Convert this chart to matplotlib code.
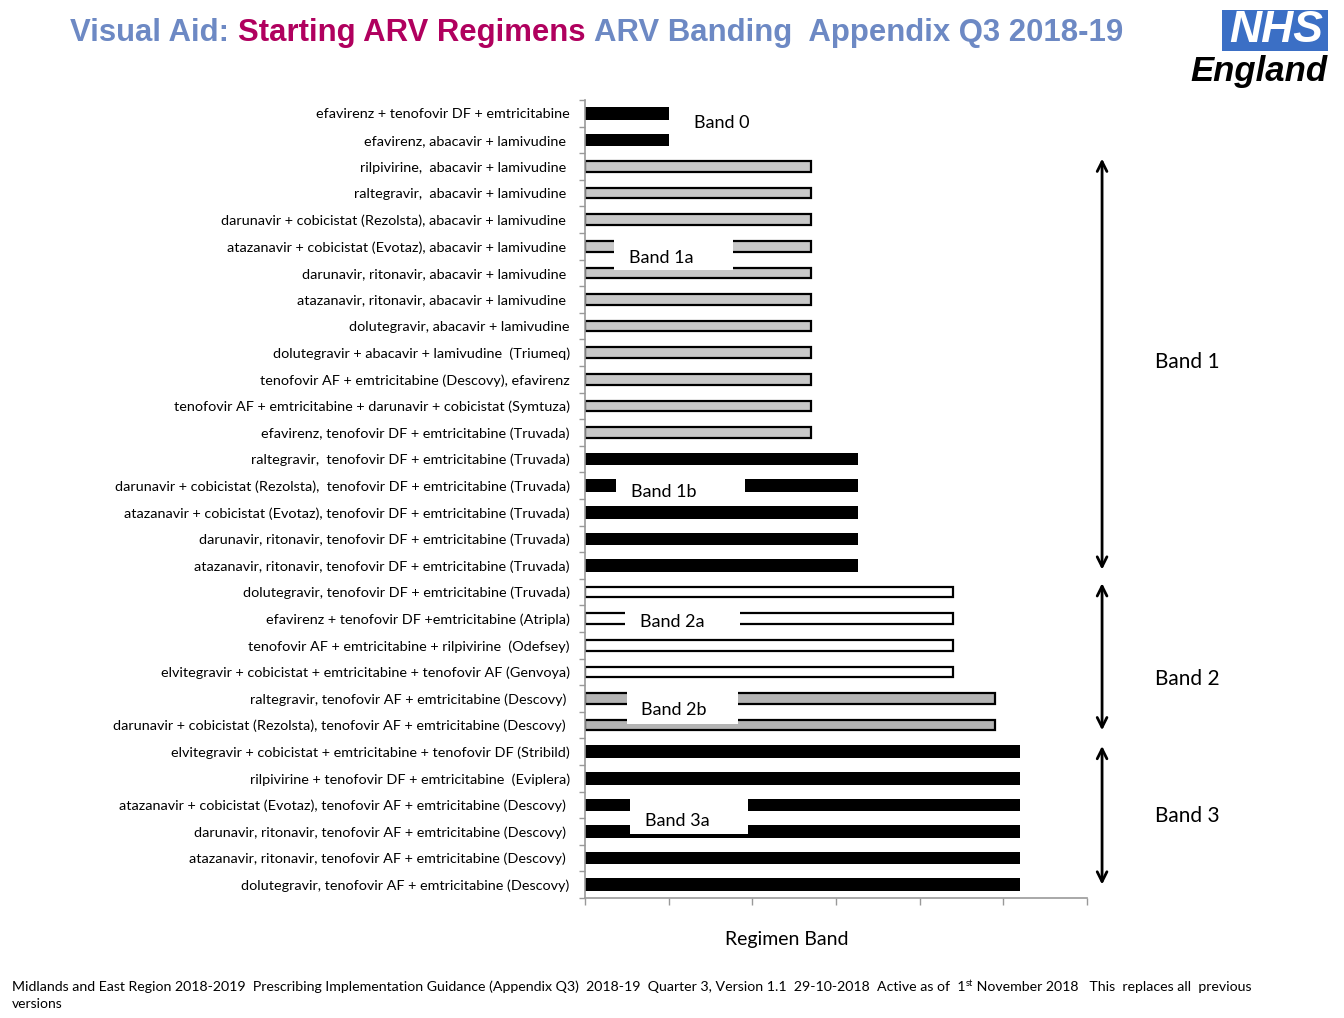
import matplotlib
matplotlib.use('Agg')
import matplotlib.pyplot as plt
from matplotlib.patches import Rectangle

plt.rcParams['font.family'] = ['Lato', 'DejaVu Sans']

# data
regimens = [
    "efavirenz + tenofovir DF + emtricitabine",
    "efavirenz, abacavir + lamivudine ",
    "rilpivirine,  abacavir + lamivudine ",
    "raltegravir,  abacavir + lamivudine ",
    "darunavir + cobicistat (Rezolsta), abacavir + lamivudine ",
    "atazanavir + cobicistat (Evotaz), abacavir + lamivudine ",
    "darunavir, ritonavir, abacavir + lamivudine ",
    "atazanavir, ritonavir, abacavir + lamivudine ",
    "dolutegravir, abacavir + lamivudine",
    "dolutegravir + abacavir + lamivudine  (Triumeq)",
    "tenofovir AF + emtricitabine (Descovy), efavirenz",
    "tenofovir AF + emtricitabine + darunavir + cobicistat (Symtuza)",
    "efavirenz, tenofovir DF + emtricitabine (Truvada)",
    "raltegravir,  tenofovir DF + emtricitabine (Truvada)",
    "darunavir + cobicistat (Rezolsta),  tenofovir DF + emtricitabine (Truvada)",
    "atazanavir + cobicistat (Evotaz), tenofovir DF + emtricitabine (Truvada)",
    "darunavir, ritonavir, tenofovir DF + emtricitabine (Truvada)",
    "atazanavir, ritonavir, tenofovir DF + emtricitabine (Truvada)",
    "dolutegravir, tenofovir DF + emtricitabine (Truvada)",
    "efavirenz + tenofovir DF +emtricitabine (Atripla)",
    "tenofovir AF + emtricitabine + rilpivirine  (Odefsey)",
    "elvitegravir + cobicistat + emtricitabine + tenofovir AF (Genvoya)",
    "raltegravir, tenofovir AF + emtricitabine (Descovy) ",
    "darunavir + cobicistat (Rezolsta), tenofovir AF + emtricitabine (Descovy) ",
    "elvitegravir + cobicistat + emtricitabine + tenofovir DF (Stribild)",
    "rilpivirine + tenofovir DF + emtricitabine  (Eviplera)",
    "atazanavir + cobicistat (Evotaz), tenofovir AF + emtricitabine (Descovy) ",
    "darunavir, ritonavir, tenofovir AF + emtricitabine (Descovy) ",
    "atazanavir, ritonavir, tenofovir AF + emtricitabine (Descovy) ",
    "dolutegravir, tenofovir AF + emtricitabine (Descovy)",
]
band_values = [1.0] * 2 + [2.7] * 11 + [3.26] * 5 + [4.4] * 4 + [4.9] * 2 + [5.2] * 6
band_codes = ['0'] * 2 + ['1a'] * 11 + ['1b'] * 5 + ['2a'] * 4 + ['2b'] * 2 + ['3a'] * 6

band_fill = {'0': 'black', '1a': '#c8c8c8', '1b': 'black',
             '2a': 'white', '2b': '#b4b4b4', '3a': 'black'}

# inner band labels: (text, text left x, text row, box x0, box x1, box row0, box row1)
inner_labels = [
    ("Band 1a", 0.53, 5.45, 0.35, 1.77, 4.70, 5.90),
    ("Band 1b", 0.55, 14.25, 0.37, 1.91, 13.72, 14.77),
    ("Band 2a", 0.66, 19.13, 0.48, 1.85, 18.62, 19.60),
    ("Band 2b", 0.67, 22.44, 0.50, 1.83, 21.70, 22.94),
    ("Band 3a", 0.72, 26.60, 0.54, 1.95, 25.70, 27.10),
]
# outer bands: (text, first row, last row, label row)
outer_bands = [
    ("Band 1", 1.60, 17.26, 9.36),
    ("Band 2", 17.56, 23.3, 21.28),
    ("Band 3", 23.68, 29.1, 26.4),
]

fig = plt.figure(figsize=(13.44, 10.18), dpi=100)
ax = fig.add_axes([585 / 1344, 1 - 898 / 1018, 502 / 1344, 798 / 1018])

rows = list(range(len(regimens)))
for r, v, b in zip(rows, band_values, band_codes):
    fc = band_fill[b]
    lw = 0 if fc == 'black' else 1.6
    h = 0.47 if fc == 'black' else 0.40
    ax.barh(r, v, height=h, color=fc, edgecolor='black', linewidth=lw, zorder=2)

ax.set_xlim(0, 6)
ax.set_ylim(len(regimens) - 0.5, -0.5)
ax.set_yticks(rows)
ax.set_yticklabels(regimens, fontsize=10.4)
ax.tick_params(axis='y', length=0, pad=11)
ax.set_yticks([r - 0.5 for r in rows] + [len(rows) - 0.5], minor=True)
ax.tick_params(axis='y', which='minor', length=4, color='#999999', width=1)
ax.set_xticks(range(7))
ax.set_xticklabels([])
ax.tick_params(axis='x', length=5, color='#999999', width=1)
for s in ['top', 'right']:
    ax.spines[s].set_visible(False)
for s in ['left', 'bottom']:
    ax.spines[s].set_color('#999999')
    ax.spines[s].set_linewidth(1.2)

fig.text(787 / 1344, 1 - 940 / 1018, "Regimen Band", fontsize=14,
         ha='center', va='center')

ax.text(1.63, 0.35, "Band 0", fontsize=13, ha='center', va='center')
for txt, xt, yt, x0, x1, y0, y1 in inner_labels:
    ax.add_patch(Rectangle((x0, y0), x1 - x0, y1 - y0, facecolor='white',
                           edgecolor='none', zorder=3))
    ax.text(xt, yt, txt, fontsize=13, ha='left', va='center', zorder=4)

for txt, y0, y1, yl in outer_bands:
    ax.annotate('', xy=(6.18, y0), xytext=(6.18, y1), annotation_clip=False,
                arrowprops=dict(arrowstyle='<->,head_length=0.7,head_width=0.35',
                                color='black', lw=2))
    ax.text(7.2, yl, txt, fontsize=15, ha='center', va='center', clip_on=False)

fig.canvas.draw()
renderer = fig.canvas.get_renderer()


def put_runs(x, y, runs, width=None):
    # lay text pieces one after another in figure pixels, optionally fit to a width
    texts = [fig.text(0, 0, txt, va='baseline', ha='left', **kw) for txt, kw, dy in runs]
    if width is not None:
        total = sum(t.get_window_extent(renderer).width for t in texts)
        for t in texts:
            t.set_fontsize(t.get_fontsize() * width / total)
    for t, (txt, kw, dy) in zip(texts, runs):
        t.set_position((x / 1344, 1 - (y - dy) / 1018))
        x += t.get_window_extent(renderer).width
    return texts


blue = '#6d89c4'
mag = '#b0005e'
tkw = dict(fontsize=22, fontweight='bold', family='Liberation Sans')
put_runs(70, 41, [("Visual Aid: ", dict(color=blue, **tkw), 0),
                  ("Starting ARV Regimens ", dict(color=mag, **tkw), 0),
                  ("ARV Banding  Appendix Q3 2018-19", dict(color=blue, **tkw), 0)],
         width=1050)

# NHS England logo
fig.patches.append(Rectangle((1222 / 1344, 1 - 51 / 1018), 106 / 1344, 41 / 1018,
                             transform=fig.transFigure, facecolor='#3b6fc5',
                             edgecolor='none'))
fig.text(1276 / 1344, 1 - 31 / 1018, "NHS", color='white', fontsize=32,
         fontweight='bold', fontstyle='italic', family='Liberation Sans',
         ha='center', va='center')
fig.text(1259 / 1344, 1 - 72 / 1018, "England", color='black', fontsize=25,
         fontweight='bold', fontstyle='italic', family='Liberation Sans',
         ha='center', va='center')

fkw = dict(fontsize=10, color='black')
skw = dict(fontsize=6.5, color='black')
put_runs(12, 991, [
    ("Midlands and East Region 2018-2019  Prescribing Implementation Guidance (Appendix Q3)  "
     "2018-19  Quarter 3, Version 1.1  29-10-2018  Active as of  1", fkw, 0),
    ("st", skw, 5),
    (" November 2018   This  replaces all  previous", fkw, 0),
], width=1243)
fig.text(12 / 1344, 1 - 1008 / 1018, "versions", va='baseline', **fkw)

fig.savefig('out.png', dpi=100)
